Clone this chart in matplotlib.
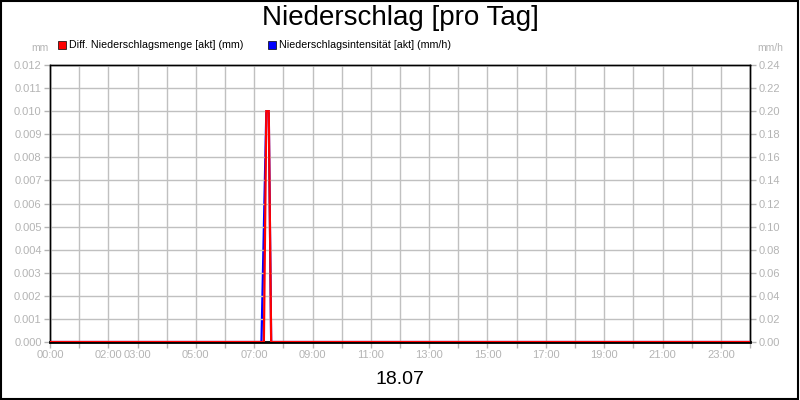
import numpy as np
import matplotlib
matplotlib.use("Agg")
from matplotlib import pyplot as plt
from matplotlib.patches import Rectangle

plt.rcParams['font.family'] = ['Liberation Sans', 'DejaVu Sans']

# Stunden (dezimal) und Werte
menge_t = [0.0, 7.333, 7.417, 7.5, 7.583, 24.0]
menge_v = [0.0, 0.0, 0.010, 0.010, 0.0, 0.0]          # mm
intens_t = [0.0, 7.25, 7.417, 7.5, 7.583, 24.0]
intens_v = [0.0, 0.0, 0.20, 0.20, 0.0, 0.0]           # mm/h

xlabel_hours = [0, 2, 3, 5, 7, 9, 11, 13, 15, 17, 19, 21, 23]
left_ticks = [i * 0.001 for i in range(13)]
right_ticks = [i * 0.02 for i in range(13)]

grau = '#b4b4b4'
gitter = '#c0c0c0'

fig = plt.figure(figsize=(8, 4), dpi=100)
fig.patches.append(Rectangle((0.001, 0.002), 0.997, 0.995, transform=fig.transFigure,
                             fill=False, edgecolor='black', linewidth=1.5))

ax = fig.add_axes([50/800, 1 - 342/400, 700/800, 277/400])
ax2 = ax.twinx()

ax.set_xlim(0, 24)
ax.set_ylim(0, 0.012)
ax2.set_ylim(0, 0.24)

ax.set_xticks(range(25))
ax.set_xticklabels(['%02d:00' % h if h in xlabel_hours else '' for h in range(25)])
ax.set_yticks(left_ticks)
ax.set_yticklabels(['%.3f' % v for v in left_ticks])
ax2.set_yticks(right_ticks)
ax2.set_yticklabels(['%.2f' % v for v in right_ticks])

ax.grid(True, color=gitter, linewidth=1)
ax.set_axisbelow(True)
for a in (ax, ax2):
    a.tick_params(colors=grau, labelsize=8, length=4, width=1, pad=2)
    for s in a.spines.values():
        s.set_color('black')
        s.set_linewidth(1)

ax2.plot(intens_t, intens_v, color='#0000ff', linewidth=1.6, solid_joinstyle='miter', zorder=3)
ax.plot(menge_t, menge_v, color='#ff0000', linewidth=1.6, solid_joinstyle='miter', zorder=4)
ax.set_zorder(ax2.get_zorder() + 1)
ax.patch.set_visible(False)
ax.spines['bottom'].set_linewidth(2)

fig.text(0.5, 1 - 18/400, 'Niederschlag [pro Tag]', ha='center', va='center', fontsize=20)
fig.text(40/800, 1 - 48/400, 'mm', ha='center', va='center', fontsize=7.5, color=grau)
fig.text(770/800, 1 - 48/400, 'mm/h', ha='center', va='center', fontsize=7.5, color=grau)
fig.text(0.5, 1 - 380/400, '18.07', ha='center', va='center', fontsize=14)

fig.patches.append(Rectangle((58/800, 1 - 49/400), 8/800, 8/400, transform=fig.transFigure,
                             facecolor='#ff0000', edgecolor='black', linewidth=0.5))
fig.text(69/800, 1 - 44.5/400, 'Diff. Niederschlagsmenge [akt] (mm)', va='center', fontsize=7.7)
fig.patches.append(Rectangle((268/800, 1 - 49/400), 8/800, 8/400, transform=fig.transFigure,
                             facecolor='#0000ff', edgecolor='black', linewidth=0.5))
fig.text(279/800, 1 - 44.5/400, 'Niederschlagsintensität [akt] (mm/h)', va='center', fontsize=7.7)

fig.savefig('out.png', dpi=100)
